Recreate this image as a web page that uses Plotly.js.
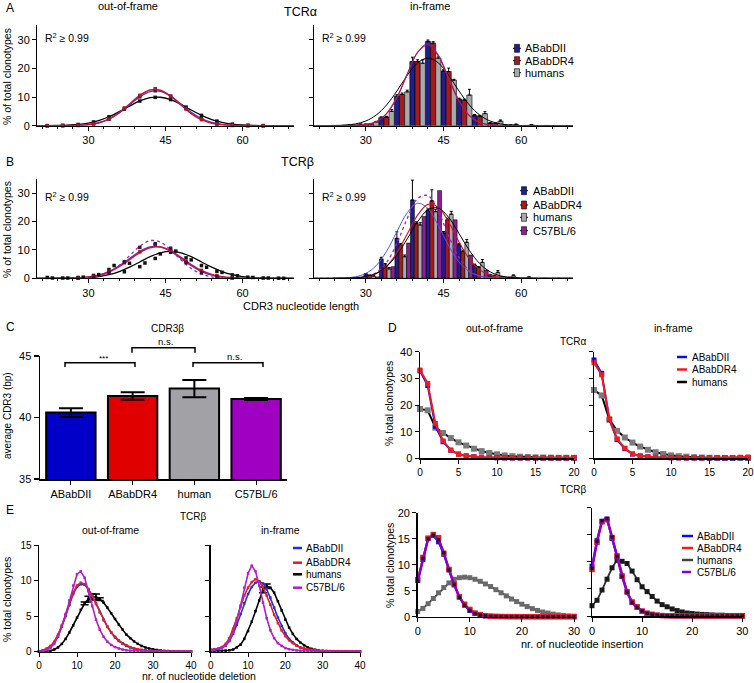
<!DOCTYPE html>
<html><head><meta charset="utf-8">
<script src="https://cdn.plot.ly/plotly-3.0.1.min.js"></script>
<style>html,body{margin:0;padding:0;background:#fff}#chart{width:754px;height:683px}</style>
</head><body><div id="chart"></div>
<script>
// ================= DATA =================
const seriesMain = ['ABabDII','ABabDR4','humans'];
const seriesAll = ['ABabDII','ABabDR4','humans','C57BL/6'];
const N = NaN; // no error bar at this point

// --- Panel A/B: CDR3 length distributions ---
const fitX = [20,22,24,26,28,30,32,34,36,38,40,42,44,46,48,50,52,54,56,58,60,62,64,66,68,70];
// A, TCRalpha out-of-frame (fits)
const aOutFitBlue = [0,0,0.01,0.04,0.13,0.39,1.04,2.33,4.45,7.25,10.07,11.91,12.0,10.31,7.55,4.71,2.5,1.13,0.44,0.14,0.04,0.01,0,0,0,0];
const aOutFitRed  = [0,0,0.01,0.03,0.1,0.35,0.96,2.27,4.53,7.55,10.58,12.48,12.37,10.31,7.22,4.25,2.1,0.88,0.31,0.09,0.02,0,0,0,0,0];
const aOutFitHum  = [0.01,0.02,0.07,0.18,0.43,0.93,1.8,3.13,4.89,6.85,8.64,9.77,9.93,9.07,7.43,5.47,3.62,2.15,1.14,0.55,0.24,0.09,0.03,0.01,0,0];
// A, out-of-frame data points
const aPtX = [22,25,28,31,34,37,40,43,46,49,52,55,58,61,64];
const aOutPtBlue = [0,0.02,0.13,0.7,2.3,5.8,10.1,12.2,10.3,6.1,2.5,0.7,0.14,0.02,0];
const aOutPtRed  = [0,0.02,0.1,0.6,2.3,6.2,10.6,12.9,10.3,5.8,2.1,0.5,0.09,0.01,0];
const aOutPtHum  = [0.02,0.12,0.43,1.3,3.1,5.9,8.6,9.9,9.1,6.5,3.6,1.6,0.55,0.15,0.03];
// A, TCRalpha in-frame (bars + fits)
const barX = [24,27,30,33,36,39,42,45,48,51,54,57,60,63,66,69];
const aInBlue = [0.1,0.3,0.5,2.8,10.3,22.4,29.4,19.1,9.3,3.6,0.9,0.2,0.1,0,0,0];
const aInRed  = [0.1,0.3,0.7,3.0,10.9,22.4,28.8,18.9,8.9,3.3,0.8,0.2,0.1,0,0,0];
const aInHum  = [0.2,0.5,1.3,5.0,11.8,21.8,23.6,15.9,10.7,4.2,1.6,0.4,0.3,0.1,0.05,0.05];
const aInBlueErr = [N,N,0.1,0.3,0.5,1.5,0.5,0.4,0.3,0.3,0.2,0.1,N,N,N,N];
const aInRedErr  = [N,N,0.1,0.3,0.5,0.6,0.5,1.2,0.4,0.3,0.2,0.1,N,N,N,N];
const aInHumErr  = [N,0.1,0.2,0.6,0.6,1.2,0.4,0.3,2.0,0.7,0.4,0.2,0.1,N,N,N];
const aInFitBlue = [0,0,0,0.01,0.06,0.34,1.35,4.1,9.7,17.9,25.6,28.6,24.7,16.7,8.8,3.6,1.15,0.29,0.06,0.01,0,0,0,0,0,0];
const aInFitRed  = [0,0,0,0.01,0.07,0.37,1.41,4.23,9.9,18.05,25.58,28.27,24.33,16.3,8.52,3.47,1.1,0.27,0.05,0.01,0,0,0,0,0,0];
const aInFitHum  = [0,0.01,0.06,0.21,0.63,1.64,3.71,7.22,12.1,17.55,21.92,23.6,21.92,17.55,12.1,7.22,3.71,1.64,0.63,0.21,0.06,0.01,0,0,0,0];
// B, TCRbeta out-of-frame (fits)
const bOutFitBlue = [0,0,0.01,0.04,0.15,0.44,1.1,2.37,4.41,6.99,9.5,11.08,11.08,9.5,6.99,4.41,2.37,1.1,0.44,0.15,0.04,0.01,0,0,0,0];
const bOutFitRed  = [0,0,0.01,0.04,0.15,0.42,1.04,2.24,4.14,6.6,9.07,10.76,11.0,9.7,7.37,4.83,2.73,1.33,0.56,0.2,0.06,0.02,0,0,0,0];
const bOutFitC57  = [0,0,0,0.01,0.07,0.27,0.83,2.16,4.57,7.95,11.34,13.28,12.77,10.07,6.52,3.47,1.51,0.54,0.16,0.04,0.01,0,0,0,0,0];
const bOutFitHum  = [0,0,0.01,0.04,0.11,0.27,0.62,1.29,2.37,3.91,5.76,7.61,8.99,9.5,8.99,7.61,5.76,3.91,2.37,1.29,0.62,0.27,0.11,0.04,0.01,0];
// B, out-of-frame data points
const bHumPtX = [22,23,25,26,28,29,31,32,34,35,37,38,40,41,43,44,46,47,49,50,52,53,55,56,58,59,61,62,64,65,67,68];
const bOutPtHum = [0.3,0.1,0.1,0.1,0.3,0.4,1.0,1.3,3.1,4.5,2.3,5.3,4.1,5.4,7.0,8.6,9.2,9.6,7.2,6.5,4.5,3.9,2.5,2.1,1.2,0.9,0.4,0.3,0.1,0.1,0.05,0];
const bMousePtX = [28,31,34,37,40,43,46,49,52,55,58];
const bOutPtRed = [0.15,0.7,2.4,5.5,9.3,11.8,9.9,5.9,2.8,1.0,0.25];
const bOutPtC57 = [0.05,0.4,2.0,5.8,10.9,12.2,10.6,5.5,1.9,0.5,0.1];
// B, TCRbeta in-frame (bars + fits)
const bInBlue = [0.1,0.3,1.5,6.8,14.1,27.6,24.0,16.0,11.8,4.7,1.2,0.3,0.1,0,0,0];
const bInRed  = [0.1,0.3,1.0,4.7,11.8,19.4,27.3,20.6,9.4,3.8,0.9,0.3,0.1,0,0,0];
const bInHum  = [0.1,0.3,0.8,3.3,7.6,18.8,23.5,22.6,12.7,5.6,2.1,0.9,0.4,0.1,0.05,0.05];
const bInC57  = [0.05,0.2,0.5,4.1,12.4,21.8,30.9,20.6,8.2,2.9,0.6,0.2,0.05,0,0,0];
const bInBlueErr = [N,N,0.2,0.6,2.3,7.0,0.5,0.5,0.5,0.3,0.2,0.1,N,N,N,N];
const bInRedErr  = [N,N,0.2,0.5,0.5,0.5,3.9,0.6,0.5,0.3,0.2,0.1,N,N,N,N];
const bInHumErr  = [N,0.1,0.2,0.5,0.6,0.8,0.8,1.0,1.0,1.0,0.6,0.3,0.1,N,N,N];
const bInFitBlue = [0,0,0.03,0.14,0.53,1.71,4.47,9.5,16.43,23.1,26.44,24.6,18.6,11.44,5.73,2.33,0.77,0.21,0.05,0.01,0,0,0,0,0,0];
const bInFitRed  = [0,0,0.01,0.03,0.14,0.52,1.64,4.24,8.97,15.6,22.25,26.06,25.06,19.78,12.81,6.81,2.97,1.06,0.31,0.08,0.02,0,0,0,0,0];
const bInFitC57  = [0,0,0,0.02,0.12,0.55,1.99,5.59,12.3,21.07,28.1,29.15,23.57,14.84,7.29,2.77,0.82,0.19,0.04,0.01,0,0,0,0,0,0];
const bInFitHum  = [0,0,0.01,0.05,0.19,0.62,1.75,4.13,8.23,13.92,19.93,24.13,24.75,21.47,15.78,9.82,5.17,2.3,0.87,0.28,0.07,0.02,0,0,0,0];

// --- Panel C: average CDR3beta ---
const cCategories = ['ABabDII','ABabDR4','human','C57BL/6'];
const cValues = [40.4, 41.75, 42.35, 41.5];
const cErrors = [0.35, 0.3, 0.7, 0.08];

// --- Panel D: nucleotide insertions ---
const dXA = [0,1,2,3,4,5,6,7,8,9,10,11,12,13,14,15,16,17,18,19,20];
const dAoBlue = [32.8,27.3,12.0,6.2,3.0,1.6,0.9,0.6,0.4,0.3,0.2,0.15,0.1,0.1,0.1,0.1,0.1,0.1,0.1,0.1,0.1];
const dAoRed  = [33.1,28.1,13.1,6.5,3.1,1.5,0.9,0.6,0.4,0.3,0.2,0.15,0.1,0.1,0.1,0.1,0.1,0.1,0.1,0.1,0.1];
const dAoHum  = [18.5,18.0,11.5,9.5,7.6,6.0,4.8,3.6,2.7,2.0,1.5,1.1,0.8,0.6,0.45,0.35,0.3,0.25,0.2,0.2,0.2];
const dAiBlue = [36.9,31.9,14.5,7.0,3.6,1.6,0.9,0.6,0.4,0.3,0.2,0.15,0.1,0.1,0.1,0.1,0.1,0.1,0.1,0.2,0.2];
const dAiRed  = [35.9,31.3,14.8,7.3,3.8,1.6,0.9,0.6,0.4,0.3,0.2,0.15,0.1,0.1,0.1,0.2,0.2,0.2,0.3,0.4,0.5];
const dAiHum  = [25.6,23.6,14.5,10.3,7.8,5.9,4.4,3.2,2.3,1.6,1.1,0.8,0.6,0.4,0.3,0.2,0.15,0.1,0.1,0.1,0.1];
const dXB = [0,1,2,3,4,5,6,7,8,9,10,11,12,13,14,15,16,17,18,19,20,21,22,23,24,25,26,27,28,29,30];
const dBoBlue = [7.0,11.0,15.0,15.6,14.4,12.0,9.0,6.1,3.8,2.2,1.2,0.6,0.3,0.15,0.08,0.05,0.03,0.02,0.01,0.01,0,0,0,0,0,0,0,0,0,0,0];
const dBoRed  = [7.1,11.4,15.1,15.8,15.2,12.2,9.1,6.3,3.8,2.4,1.4,0.7,0.4,0.2,0.1,0.06,0.04,0.02,0.01,0.01,0,0,0,0,0,0,0,0,0,0,0];
const dBoC57  = [6.8,11.2,15.0,15.7,14.8,12.3,9.0,6.2,3.7,2.2,1.2,0.6,0.3,0.15,0.08,0.05,0.03,0.02,0.01,0.01,0,0,0,0,0,0,0,0,0,0,0];
const dBoHum  = [1.0,1.6,2.5,3.5,4.6,5.6,6.5,7.2,7.5,7.6,7.5,7.2,6.8,6.3,5.8,5.2,4.6,4.0,3.4,2.9,2.4,1.95,1.55,1.2,0.9,0.7,0.5,0.35,0.25,0.15,0.1];
const dBiBlue = [9.2,13.9,17.5,17.9,14.3,11.0,7.3,4.4,2.5,1.6,0.9,0.5,0.3,0.15,0.08,0.05,0.03,0.02,0.01,0.01,0,0,0,0,0,0,0,0,0,0,0];
const dBiRed  = [8.6,13.6,17.4,17.8,14.5,11.1,7.4,4.5,2.6,1.7,0.9,0.5,0.3,0.15,0.08,0.05,0.03,0.02,0.01,0.01,0,0,0,0,0,0,0,0,0,0,0];
const dBiC57  = [8.8,13.8,17.6,18.0,14.6,11.0,7.3,4.4,2.5,1.6,0.9,0.5,0.3,0.15,0.08,0.05,0.03,0.02,0.01,0.01,0,0,0,0,0,0,0,0,0,0,0];
const dBiHum  = [1.9,2.9,4.8,6.8,8.9,10.3,10.1,9.7,8.3,6.7,5.4,4.5,3.6,2.75,2.1,1.7,1.3,1.0,0.75,0.55,0.45,0.35,0.3,0.25,0.2,0.15,0.15,0.1,0.1,0.1,0.1];

// --- Panel E: nucleotide deletions ---
const eX = [0,1,2,3,4,5,6,7,8,9,10,11,12,13,14,15,16,17,18,19,20,21,22,23,24,25,26,27,28,29,30,31,32,33,34,35,36,37,38,39,40];
const eOutBlue = [0.05,0.15,0.35,0.7,1.3,2.2,3.5,5.0,6.6,8.1,9.1,9.5,9.4,8.8,7.9,6.8,5.6,4.5,3.5,2.7,2.0,1.5,1.1,0.8,0.6,0.44,0.32,0.23,0.17,0.12,0.09,0.07,0.05,0.04,0.03,0.03,0.02,0.02,0.02,0.01,0.01];
const eOutRed  = [0.1,0.2,0.45,0.8,1.4,2.4,3.7,5.3,6.9,8.3,9.3,9.7,9.5,8.8,7.8,6.7,5.5,4.4,3.5,2.7,2.1,1.6,1.2,0.9,0.65,0.48,0.35,0.25,0.18,0.13,0.1,0.08,0.06,0.05,0.04,0.03,0.03,0.02,0.02,0.02,0.02];
const eOutHum  = [0,0.02,0.05,0.12,0.3,0.6,1.1,1.8,2.7,3.7,4.8,5.9,6.8,7.4,7.7,7.7,7.4,6.9,6.2,5.4,4.6,3.8,3.1,2.4,1.9,1.45,1.1,0.8,0.6,0.45,0.33,0.24,0.17,0.12,0.09,0.07,0.05,0.04,0.03,0.02,0.02];
const eOutHumErr = [N,N,N,N,N,N,N,N,N,N,N,N,0.2,0.4,0.4,0.4,0.2,N,N,N,N,N,N,N,N,N,N,N,N,N,N,N,N,N,N,N,N,N,N,N,N];
const eOutC57  = [0.05,0.1,0.25,0.55,1.1,2.1,3.5,5.2,7.2,9.3,10.9,11.3,10.4,8.5,6.4,4.5,3.1,2.1,1.4,0.95,0.65,0.45,0.3,0.2,0.15,0.1,0.08,0.06,0.05,0.04,0.03,0.03,0.02,0.02,0.02,0.01,0.01,0.01,0.01,0.01,0.01];
const eInBlue = [0.2,0.25,0.35,0.5,0.85,1.5,2.5,3.8,5.3,6.8,8.1,9.1,9.7,9.9,9.6,8.8,7.6,6.2,4.8,3.6,2.6,1.8,1.3,0.9,0.6,0.42,0.3,0.21,0.15,0.11,0.08,0.06,0.05,0.04,0.03,0.03,0.02,0.02,0.02,0.02,0.02];
const eInRed  = [0.3,0.35,0.45,0.65,1.1,1.9,3.2,4.7,6.3,7.9,9.0,9.8,10.2,9.9,9.1,7.9,6.6,5.2,4.0,3.0,2.2,1.6,1.2,0.85,0.6,0.45,0.35,0.27,0.2,0.16,0.13,0.11,0.1,0.09,0.08,0.08,0.07,0.07,0.07,0.07,0.07];
const eInHum  = [0.1,0.1,0.1,0.1,0.15,0.2,0.3,0.6,1.0,1.8,2.9,4.2,5.7,7.2,8.7,9.2,9.0,8.3,7.1,5.8,4.5,3.4,2.5,1.8,1.3,0.9,0.6,0.4,0.27,0.18,0.12,0.08,0.06,0.04,0.03,0.02,0.02,0.01,0.01,0.01,0.01];
const eInHumErr = [N,N,N,N,N,N,N,N,N,N,N,N,N,N,0.4,0.3,N,N,N,N,N,N,N,N,N,N,N,N,N,N,N,N,N,N,N,N,N,N,N,N,N];
const eInC57  = [0.2,0.3,0.4,0.55,0.9,1.6,2.7,4.4,6.5,9.0,11.0,12.1,11.3,9.3,6.9,4.7,3.0,1.9,1.2,0.8,0.5,0.35,0.25,0.18,0.14,0.11,0.09,0.07,0.06,0.05,0.04,0.04,0.03,0.03,0.03,0.02,0.02,0.02,0.02,0.02,0.02];

// ================= STYLE / HELPERS =================
const FONT = '"Liberation Sans", Arial, sans-serif';
const W = 754, H = 683;
const xd = (a,b) => [a/W, b/W];
const yd = (top,bottom) => [1-bottom/H, 1-top/H];
const PX = v => v/W, PY = v => 1 - v/H;

const colAB = {blue:'#1d1f8c', red:'#a8191d', gray:'#a9a9a9', purple:'#8c1f98'};
const fitCol = {blue:'#3b3bd6', red:'#c8123a', black:'#000', purple:'#a322c4'};
const colC = ['#0000c8','#e00000','#a2a2a6','#a000c2'];
const colD = {blue:'#0a0aff', red:'#ee1c1c', black:'#000', purple:'#8e00c8'};
const colE = {blue:'#2030e0', red:'#e02020', black:'#000', purple:'#b21ec8'};

function baseAx(extra){
  return Object.assign({showline:true, linecolor:'#000', linewidth:1, ticks:'outside', ticklen:4, tickwidth:1,
    tickcolor:'#000', showgrid:false, zeroline:false, fixedrange:true,
    tickfont:{size:11, color:'#000', family:FONT}}, extra);
}
function fit(x,y,xa,ya,color,w,dash){
  return {type:'scatter', mode:'lines', x:x, y:y, xaxis:xa, yaxis:ya, showlegend:false, hoverinfo:'skip',
    line:{color:color, width:w||1.3, shape:'spline', dash:dash||'solid'}};
}
function pts(x,y,xa,ya,color,size){
  return {type:'scatter', mode:'markers', x:x, y:y, xaxis:xa, yaxis:ya, showlegend:false, hoverinfo:'skip',
    cliponaxis:false, marker:{symbol:'square', size:size||3.5, color:color}};
}
function lm(x,y,xa,ya,lc,mc,lw,ms,err){
  const t = {type:'scatter', mode:'lines+markers', x:x, y:y, xaxis:xa, yaxis:ya, showlegend:false, hoverinfo:'skip',
    cliponaxis:false, line:{color:lc, width:lw}, marker:{symbol:'square', size:ms, color:mc}};
  if(err) t.error_y = {type:'data', array:err, color:lc, thickness:1.5, width:4};
  return t;
}
function bars(x,y,err,xa,ya,color,offset,width){
  return {type:'bar', x:x, y:y, xaxis:xa, yaxis:ya, offset:offset, width:width, showlegend:false, hoverinfo:'skip',
    marker:{color:color, line:{color:'#000', width:0.6}},
    error_y: err ? {type:'data', array:err, arrayminus:err.map(v=>isNaN(v)?NaN:0), symmetric:false, color:'#000', thickness:1, width:1.5} : undefined};
}

// ================= TRACES =================
const traces = [];
// A left
traces.push(fit(fitX,aOutFitHum,'x','y',fitCol.black,1.3));
traces.push(fit(fitX,aOutFitBlue,'x','y',fitCol.blue,1.3));
traces.push(fit(fitX,aOutFitRed,'x','y',fitCol.red,1.5));
traces.push(pts(aPtX,aOutPtHum,'x','y','#111'));
traces.push(pts(aPtX,aOutPtBlue,'x','y',colAB.blue));
traces.push(pts(aPtX,aOutPtRed,'x','y',colAB.red));
// A right
traces.push(bars(barX,aInBlue,aInBlueErr,'x2','y2',colAB.blue,-0.5,1));
traces.push(bars(barX,aInRed,aInRedErr,'x2','y2',colAB.red,0.5,1));
traces.push(bars(barX,aInHum,aInHumErr,'x2','y2',colAB.gray,1.5,1));
traces.push(fit(fitX,aInFitHum,'x2','y2',fitCol.black,1));
traces.push(fit(fitX,aInFitBlue,'x2','y2',fitCol.blue,1));
traces.push(fit(fitX,aInFitRed,'x2','y2',fitCol.red,1.1));
// B left
traces.push(fit(fitX,bOutFitHum,'x3','y3',fitCol.black,1.3));
traces.push(fit(fitX,bOutFitBlue,'x3','y3',fitCol.blue,1.3));
traces.push(fit(fitX,bOutFitRed,'x3','y3',fitCol.red,1.5));
traces.push(fit(fitX,bOutFitC57,'x3','y3',fitCol.purple,1.3,'dot'));
traces.push(pts(bHumPtX,bOutPtHum,'x3','y3','#111'));
traces.push(pts(bMousePtX,bOutPtRed,'x3','y3',colAB.red));
traces.push(pts(bMousePtX,bOutPtC57,'x3','y3','#3a1048'));
// B right
traces.push(bars(barX,bInBlue,bInBlueErr,'x4','y4',colAB.blue,-0.375,0.75));
traces.push(bars(barX,bInRed,bInRedErr,'x4','y4',colAB.red,0.375,0.75));
traces.push(bars(barX,bInHum,bInHumErr,'x4','y4',colAB.gray,1.125,0.75));
traces.push(bars(barX,bInC57,null,'x4','y4',colAB.purple,1.875,0.75));
traces.push(fit(fitX,bInFitBlue,'x4','y4','#4a5ae8',1));
traces.push(fit(fitX,bInFitRed,'x4','y4','#d01020',1.1));
traces.push(fit(fitX,bInFitC57,'x4','y4',fitCol.purple,1.3,'dot'));
traces.push(fit(fitX,bInFitHum,'x4','y4',fitCol.black,1));
// C
traces.push({type:'bar', x:cCategories, y:cValues, xaxis:'x5', yaxis:'y5', showlegend:false, hoverinfo:'skip',
  marker:{color:colC, line:{color:'#000', width:2}},
  error_y:{type:'data', array:cErrors, color:'#000', thickness:2, width:12}});
// D top
traces.push(lm(dXA,dAoHum,'x6','y6','#000','#7a7a7a',2,6));
traces.push(lm(dXA,dAoBlue,'x6','y6',colD.blue,colD.blue,2,5));
traces.push(lm(dXA,dAoRed,'x6','y6',colD.red,colD.red,2,5));
traces.push(lm(dXA,dAiHum,'x7','y7','#000','#7a7a7a',2,6));
traces.push(lm(dXA,dAiBlue,'x7','y7',colD.blue,colD.blue,2,5));
traces.push(lm(dXA,dAiRed,'x7','y7',colD.red,colD.red,2,5));
// D bottom
traces.push(lm(dXB,dBoHum,'x8','y8','#333','#6a6a6a',1.8,5));
traces.push(lm(dXB,dBoBlue,'x8','y8',colD.blue,colD.blue,2,5));
traces.push(lm(dXB,dBoRed,'x8','y8',colD.red,colD.red,2,5.5));
traces.push(lm(dXB,dBoC57,'x8','y8',colD.purple,'#1a1a1a',2.5,3.5));
traces.push(lm(dXB,dBiHum,'x9','y9','#333','#1a1a1a',1.8,5));
traces.push(lm(dXB,dBiBlue,'x9','y9',colD.blue,colD.blue,2,5));
traces.push(lm(dXB,dBiRed,'x9','y9',colD.red,colD.red,2,5.5));
traces.push(lm(dXB,dBiC57,'x9','y9',colD.purple,'#1a1a1a',2.5,3.5));
// E
traces.push(lm(eX,eOutHum,'x10','y10',colE.black,colE.black,1.6,2.5,eOutHumErr));
traces.push(lm(eX,eOutBlue,'x10','y10',colE.blue,colE.blue,1.6,2.5));
traces.push(lm(eX,eOutRed,'x10','y10',colE.red,colE.red,1.6,2.5));
traces.push(lm(eX,eOutC57,'x10','y10',colE.purple,colE.purple,1.6,2.5));
traces.push(lm(eX,eInHum,'x11','y11',colE.black,colE.black,1.6,2.5,eInHumErr));
traces.push(lm(eX,eInBlue,'x11','y11',colE.blue,colE.blue,1.6,2.5));
traces.push(lm(eX,eInRed,'x11','y11',colE.red,colE.red,1.6,2.5));
traces.push(lm(eX,eInC57,'x11','y11',colE.purple,colE.purple,1.6,2.5));

// ================= LAYOUT =================
const annotations = [];
const shapes = [];
function ann(text,x,y,opts){
  opts = opts||{};
  annotations.push({text:text, x:PX(x), y:PY(y), xref:'paper', yref:'paper', showarrow:false,
    xanchor:opts.xa||'center', yanchor:'middle', textangle:opts.angle||0, borderpad:0,
    font:{family:FONT, size:opts.size||11, color:'#000'}});
}
function legendBlock(names,colors,kind,x0,x1,tx,ys,size,dashes){
  names.forEach((n,i)=>{
    const y = ys[i];
    if(kind==='bar'){
      shapes.push({type:'line', xref:'paper', yref:'paper', x0:PX(x0-4), x1:PX(x0+4), y0:PY(y), y1:PY(y), line:{color:'#000', width:1}});
      shapes.push({type:'rect', xref:'paper', yref:'paper', x0:PX(x0-2.5), x1:PX(x0+2.5), y0:PY(y+4), y1:PY(y-4),
        fillcolor:colors[i], line:{color:'#000', width:0.6}});
    } else {
      shapes.push({type:'line', xref:'paper', yref:'paper', x0:PX(x0), x1:PX(x1), y0:PY(y), y1:PY(y),
        line:{color:colors[i], width:2.5, dash:(dashes&&dashes[i])||'solid'}});
    }
    ann(n, tx, y, {xa:'left', size:size});
  });
}

// panel texts
ann('A',5,8,{xa:'left',size:12});
ann('out-of-frame',128,6);
ann('in-frame',430,6);
ann('TCRα',300,12,{size:12.5});
ann('R<sup>2</sup> ≥ 0.99',44,37,{xa:'left',size:10.5});
ann('R<sup>2</sup> ≥ 0.99',321,37,{xa:'left',size:10.5});
ann('% of total clonotypes',7,77,{angle:-90,size:10.5});
ann('B',5,162,{xa:'left',size:12});
ann('TCRβ',297,162,{size:12.5});
ann('R<sup>2</sup> ≥ 0.99',44,196,{xa:'left',size:10.5});
ann('R<sup>2</sup> ≥ 0.99',321,196,{xa:'left',size:10.5});
ann('% of total clonotypes',7,230,{angle:-90,size:10.5});
ann('CDR3 nucleotide length',301,306,{size:11});
ann('C',5,327,{xa:'left',size:12});
ann('CDR3β',167,328,{size:10});
ann('average CDR3 (bp)',7,416,{angle:-90,size:10});
ann('***',103,358,{size:8});
ann('n.s.',165,341,{size:9.5});
ann('n.s.',235,356,{size:9.5});
ann('D',387,328,{xa:'left',size:12});
ann('out-of-frame',494,328,{size:10.5});
ann('in-frame',673,328,{size:10.5});
ann('TCRα',573,341,{size:10});
ann('% total clonotypes',389,403,{angle:-90,size:10.5});
ann('TCRβ',573,489,{size:10});
ann('% total clonotypes',390,566,{angle:-90,size:10.5});
ann('nr. of nucleotide insertion',582,644,{size:11});
ann('E',5,510,{xa:'left',size:12});
ann('TCRβ',193,516,{size:10});
ann('out-of-frame',110,530,{size:10.5});
ann('in-frame',280,530,{size:10.5});
ann('% total clonotypes',7,600,{angle:-90,size:10.5});
ann('nr. of nucleotide deletion',199,675.5,{size:10.5});

// C significance brackets
[[65,135,362.7,367],[132,195,347.7,352.7],[193,263,362.7,367]].forEach(b=>{
  shapes.push({type:'path', xref:'paper', yref:'paper',
    path:`M ${PX(b[0])},${PY(b[3])} L ${PX(b[0])},${PY(b[2])} L ${PX(b[1])},${PY(b[2])} L ${PX(b[1])},${PY(b[3])}`,
    line:{color:'#000', width:1.5}});
});

// legends
legendBlock(seriesMain,[colAB.blue,colAB.red,colAB.gray],'bar',517,0,524,[48.3,60.7,72.7],11);
legendBlock(seriesAll,[colAB.blue,colAB.red,colAB.gray,colAB.purple],'bar',524,0,531.5,[190.7,205,217.3,230.7],11);
legendBlock(seriesMain,[colD.blue,colD.red,'#000'],'line',677,687,691,[357,369.5,382],10);
legendBlock(seriesAll,[colD.blue,colD.red,'#444',colD.purple],'line',682,693,696,[536,548,560,572],10,[null,null,null,'dash']);
legendBlock(seriesAll,[colE.blue,colE.red,colE.black,colE.purple],'line',293,302,305,[548,562.7,574.3,587.7],10);

const tf10 = {size:10, color:'#000', family:FONT};
const layout = {
  width:W, height:H, margin:{l:0,r:0,t:0,b:0}, paper_bgcolor:'#fff', plot_bgcolor:'rgba(0,0,0,0)',
  showlegend:false, barmode:'overlay', font:{family:FONT, color:'#000'},
  // A
  xaxis: baseAx({domain:xd(37,294), range:[20,70], tickmode:'linear', tick0:0, dtick:15, anchor:'y', minor:{dtick:3, ticklen:2, ticks:'outside', tickcolor:'#000'}}),
  yaxis: baseAx({domain:yd(25.4,125.7), range:[0,35], tickvals:[0,10,20,30], anchor:'x'}),
  xaxis2: baseAx({domain:xd(314,573), range:[20,70], tickmode:'linear', tick0:0, dtick:15, anchor:'y2', minor:{dtick:3, ticklen:2, ticks:'outside', tickcolor:'#000'}}),
  yaxis2: baseAx({domain:yd(25.4,125.7), range:[0,35], tickvals:[0,10,20,30], showticklabels:false, anchor:'x2'}),
  // B
  xaxis3: baseAx({domain:xd(37,294), range:[20,70], tickmode:'linear', tick0:0, dtick:15, anchor:'y3', minor:{dtick:3, ticklen:2, ticks:'outside', tickcolor:'#000'}}),
  yaxis3: baseAx({domain:yd(179,278.3), range:[0,35], tickvals:[0,10,20,30], anchor:'x3'}),
  xaxis4: baseAx({domain:xd(314,573), range:[20,70], tickmode:'linear', tick0:0, dtick:15, anchor:'y4', minor:{dtick:3, ticklen:2, ticks:'outside', tickcolor:'#000'}}),
  yaxis4: baseAx({domain:yd(179,278.3), range:[0,35], tickvals:[0,10,20,30], showticklabels:false, anchor:'x4'}),
  // C
  xaxis5: baseAx({domain:xd(40,287), type:'category', anchor:'y5', linewidth:1.5, ticklen:4, tickwidth:1.2}),
  yaxis5: baseAx({domain:yd(356,479), range:[35,45], tickvals:[35,40,45], anchor:'x5', linewidth:1.5, ticklen:5, tickwidth:1.2}),
  // D top
  xaxis6: baseAx({domain:xd(420,574), range:[0,20], tickvals:[0,5,10,15,20], anchor:'y6', linewidth:1.5, tickfont:tf10}),
  yaxis6: baseAx({domain:yd(351.7,458.3), range:[0,40], tickvals:[0,10,20,30,40], anchor:'x6', linewidth:1.5}),
  xaxis7: baseAx({domain:xd(594,748), range:[0,20], tickvals:[0,5,10,15,20], anchor:'y7', linewidth:1.5, tickfont:tf10}),
  yaxis7: baseAx({domain:yd(351.7,458.3), range:[0,40], tickvals:[0,10,20,30,40], showticklabels:false, anchor:'x7', linewidth:1.5}),
  // D bottom
  xaxis8: baseAx({domain:xd(417.7,574), range:[0,30], tickvals:[0,10,20,30], anchor:'y8', linewidth:1.5}),
  yaxis8: baseAx({domain:yd(512.7,616.7), range:[0,20], tickvals:[0,5,10,15,20], anchor:'x8', linewidth:1.5}),
  xaxis9: baseAx({domain:xd(592,742.3), range:[0,30], tickvals:[0,10,20,30], anchor:'y9', linewidth:1.5}),
  yaxis9: baseAx({domain:yd(507.7,616), range:[0,20], tickvals:[0,5,10,15,20], showticklabels:false, anchor:'x9', linewidth:1.5}),
  // E
  xaxis10: baseAx({domain:xd(39,191), range:[0,40], tickvals:[0,10,20,30,40], anchor:'y10', linewidth:1.5, tickfont:tf10}),
  yaxis10: baseAx({domain:yd(545,651.7), range:[0,15], tickvals:[0,5,10,15], anchor:'x10', linewidth:1.5, tickfont:tf10}),
  xaxis11: baseAx({domain:xd(210.7,360), range:[0,40], tickvals:[0,10,20,30,40], anchor:'y11', linewidth:1.5, tickfont:tf10}),
  yaxis11: baseAx({domain:yd(545,651.7), range:[0,15], tickvals:[0,5,10,15], showticklabels:false, anchor:'x11', linewidth:1.5}),
  annotations: annotations,
  shapes: shapes
};

Plotly.newPlot('chart', traces, layout, {staticPlot:true, displayModeBar:false});
</script>
</body></html>
